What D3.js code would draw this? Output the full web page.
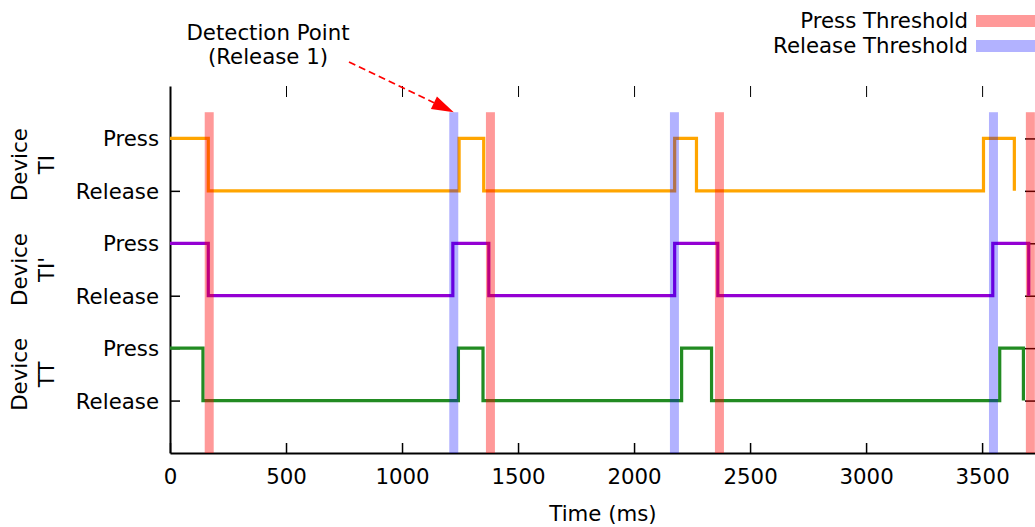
<!DOCTYPE html>
<html>
<head>
<meta charset="utf-8">
<script src="https://cdn.jsdelivr.net/npm/d3@7"></script>
<style>
  body { margin: 0; background: #fff; }
  text { font-family: "DejaVu Sans", sans-serif; font-size: 21.3px; fill: #000; }
</style>
</head>
<body>
<script>
// transition times (ms) for each device, state alternates starting at "Press"
var timesTI  = [0, 165, 1246, 1352, 2175, 2269, 3506, 3639];
var timesTIp = [0, 165, 1219, 1374, 2175, 2361, 3546, 3701];
var timesTT  = [0, 142, 1243, 1349, 2205, 2334, 3576, 3678];

var pressThresholds   = [169, 1381, 2368, 3708];
var releaseThresholds = [1223, 2174, 3549];

var xTicks = [0, 500, 1000, 1500, 2000, 2500, 3000, 3500];
var deviceNames = ["TI", "TI'", "TT"];
var deviceColors = ["#FFA500", "#9400D3", "#228B22"];
// y levels (press, release) per device
var pressLevels   = [6, 4, 2];
var releaseLevels = [5, 3, 1];

var W = 1035, H = 527;
var FS = "21.3px";
var svg = d3.select("body").append("svg").attr("width", W).attr("height", H);

var x = d3.scaleLinear().domain([0, 3728]).range([170, 1035]);
var y = d3.scaleLinear().domain([0, 7]).range([453, 86]);

// axes first, so the signal lines hide the inner ticks
var xAxis = svg.append("g").attr("transform", "translate(0," + y(0) + ")")
    .call(d3.axisBottom(x).tickValues(xTicks).tickFormat(d3.format("d"))
      .tickSizeInner(-10).tickSizeOuter(0).tickPadding(16));
xAxis.select(".domain").attr("stroke", "#000").attr("stroke-width", 2);
xAxis.selectAll(".tick line").attr("stroke", "#000").attr("stroke-width", 1.5);
xAxis.selectAll(".tick text").style("font-size", FS).style("font-family", "DejaVu Sans");

// mirrored ticks on top
svg.append("g").attr("transform", "translate(0," + y(7) + ")")
    .call(d3.axisTop(x).tickValues(xTicks.slice(1)).tickSizeInner(-11).tickSizeOuter(0).tickFormat(""))
    .select(".domain").remove();

var yTickVals = pressLevels.concat(releaseLevels);
var yAxis = svg.append("g").attr("transform", "translate(" + x(0) + ",0)")
    .call(d3.axisLeft(y).tickValues(yTickVals).tickSizeInner(-10).tickSizeOuter(0).tickPadding(11)
      .tickFormat(function(d){ return pressLevels.indexOf(d) >= 0 ? "Press" : "Release"; }));
yAxis.select(".domain").attr("stroke", "#000").attr("stroke-width", 2);
yAxis.selectAll(".tick line").attr("stroke", "#000").attr("stroke-width", 1.5);
yAxis.selectAll(".tick text").style("font-size", FS).style("font-family", "DejaVu Sans").attr("dy", "0.35em");

// mirrored ticks on the right
var yRight = svg.append("g").attr("transform", "translate(1035,0)")
    .call(d3.axisRight(y).tickValues(yTickVals).tickSizeInner(-10).tickSizeOuter(0).tickFormat(""));
yRight.selectAll(".tick line").attr("stroke", "#000").attr("stroke-width", 1.5);

// signal lines
var allTimes = [timesTI, timesTIp, timesTT];
var line = d3.line()
    .x(function(d){ return x(d.t); })
    .y(function(d){ return y(d.v); })
    .curve(d3.curveStepAfter);

allTimes.forEach(function(times, k){
  var pts = times.map(function(t, i){
    return {t: t, v: (i % 2 == 0) ? pressLevels[k] : releaseLevels[k]};
  });
  svg.append("path")
      .attr("d", line(pts))
      .attr("fill", "none")
      .attr("stroke", deviceColors[k])
      .attr("stroke-width", 3.2);
});

// threshold bands, drawn on top with transparency
var bandW = 9;
svg.selectAll("rect.press").data(pressThresholds).enter().append("rect")
    .attr("class", "press")
    .attr("x", function(d){ return x(d) - bandW/2; })
    .attr("y", y(6.5))
    .attr("width", bandW)
    .attr("height", y(0) - y(6.5))
    .attr("fill", "rgba(255,0,0,0.4)");
svg.selectAll("rect.release").data(releaseThresholds).enter().append("rect")
    .attr("class", "release")
    .attr("x", function(d){ return x(d) - bandW/2; })
    .attr("y", y(6.5))
    .attr("width", bandW)
    .attr("height", y(0) - y(6.5))
    .attr("fill", "rgba(0,0,255,0.3)");

// device labels
deviceNames.forEach(function(name, k){
  var cy = (y(pressLevels[k]) + y(releaseLevels[k])) / 2;
  var g = svg.append("g").attr("transform", "translate(20," + cy + ") rotate(-90)");
  g.append("text").attr("text-anchor", "middle").attr("dy", "0.35em").text("Device");
  g.append("text").attr("text-anchor", "middle").attr("y", 27).attr("dy", "0.35em").text(name);
});

// x axis title
svg.append("text").attr("x", 603).attr("y", 521).attr("text-anchor", "middle").text("Time (ms)");

// legend
var legend = [{label: "Press Threshold", color: "rgba(255,0,0,0.4)", y: 21},
              {label: "Release Threshold", color: "rgba(0,0,255,0.3)", y: 46}];
legend.forEach(function(l){
  svg.append("text").attr("x", 968).attr("y", l.y).attr("dy", "0.35em")
     .attr("text-anchor", "end").text(l.label);
  svg.append("rect").attr("x", 976).attr("y", l.y - 6).attr("width", 60).attr("height", 12)
     .attr("fill", l.color);
});

// annotation
svg.append("text").attr("x", 268).attr("y", 33).attr("dy", "0.35em").attr("text-anchor", "middle").text("Detection Point");
svg.append("text").attr("x", 268).attr("y", 57).attr("dy", "0.35em").attr("text-anchor", "middle").text("(Release 1)");

var tipX = x(releaseThresholds[0]), tipY = y(6.5);
var sx = 349, sy = 62;
var ang = Math.atan2(tipY - sy, tipX - sx);
var headLen = 22, headHalf = 7;
var bx = tipX - headLen * Math.cos(ang), by = tipY - headLen * Math.sin(ang);

svg.append("line")
    .attr("x1", sx).attr("y1", sy)
    .attr("x2", bx).attr("y2", by)
    .attr("stroke", "#f00").attr("stroke-width", 1.8)
    .attr("stroke-dasharray", "7,4");

svg.append("path")
    .attr("d", "M" + tipX + "," + tipY +
      " L" + (bx + headHalf * Math.sin(ang)) + "," + (by - headHalf * Math.cos(ang)) +
      " L" + (bx - headHalf * Math.sin(ang)) + "," + (by + headHalf * Math.cos(ang)) + " Z")
    .attr("fill", "#f00");
</script>
</body>
</html>
